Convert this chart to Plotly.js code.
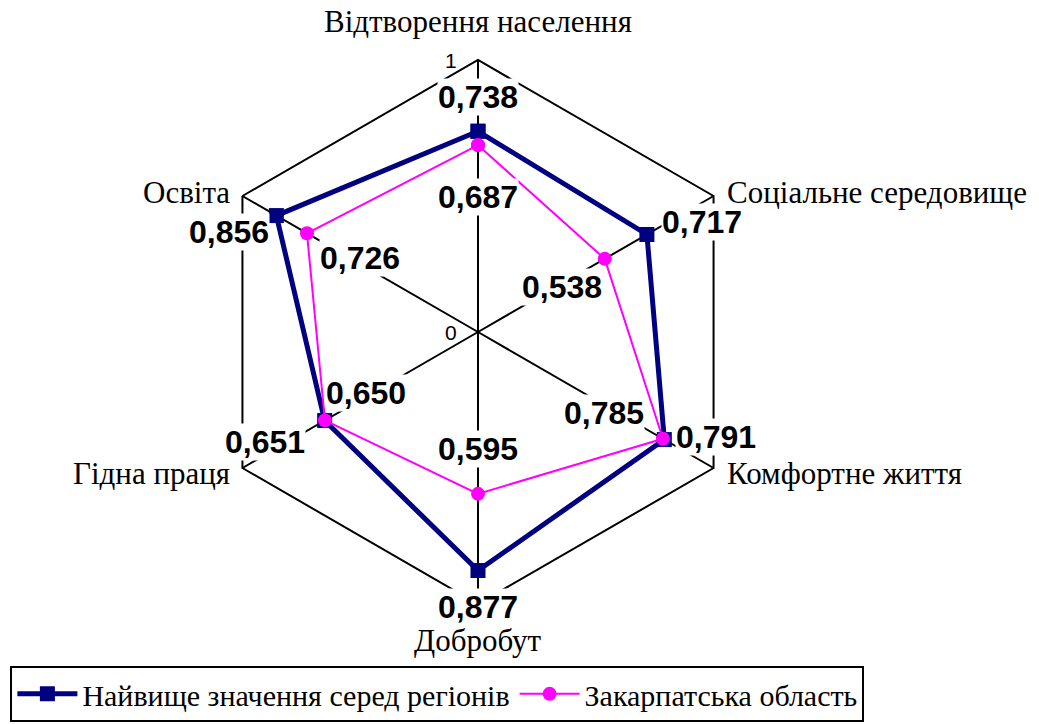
<!DOCTYPE html>
<html>
<head>
<meta charset="utf-8">
<script src="https://cdn.plot.ly/plotly-3.0.1.min.js"></script>
<style>html,body{margin:0;padding:0;background:#fff;}#chart{width:1039px;height:724px;}</style>
</head>
<body>
<div id="chart"></div>
<script>
// ---- data ----
var categories = ["Відтворення населення", "Соціальне середовище", "Комфортне життя", "Добробут", "Гідна праця", "Освіта"];
var seriesNames = ["Найвище значення серед регіонів", "Закарпатська область"];
var maxValues = [0.738, 0.717, 0.791, 0.877, 0.651, 0.856];
var zakValues = [0.687, 0.538, 0.785, 0.595, 0.650, 0.726];
var radialTicks = [0, 1];

// ---- layout constants ----
var W = 1039, H = 724;
var CX = 478, CY = 332, R = 272;
var SERIF = 'Liberation Serif';
var SANS = 'Liberation Sans';
function fmt(v){ return v.toFixed(3).replace('.', ','); }
function closeLoop(a){ return a.concat([a[0]]); }
function angleOf(i){ return (90 - 60 * i) * Math.PI / 180; }
function px(i, v){ var a = angleOf(i); return [CX + v * R * Math.cos(a), CY - v * R * Math.sin(a)]; }

var traces = [
  {type:'scatterpolar', r: closeLoop(maxValues), theta: closeLoop(categories), name: seriesNames[0],
   mode:'lines+markers', line:{color:'#000080', width:5}, marker:{symbol:'square', size:15, color:'#000080'}, cliponaxis:false},
  {type:'scatterpolar', r: closeLoop(zakValues), theta: closeLoop(categories), name: seriesNames[1],
   mode:'lines+markers', line:{color:'#FF00FF', width:2}, marker:{symbol:'circle', size:14, color:'#FF00FF'}, cliponaxis:false}
];

// label offsets (pixels) relative to data points
var maxShift = [[0,34],[55,12],[52,3],[0,-36],[-60,-21],[-47,-16]];
var zakShift = [[0,-52],[-43,-28],[-59,26],[0,45],[41,27],[53,-25]];
var catPos = [[478,22,'center'],[726,192,'left'],[726,473,'left'],[478,640,'center'],[231,473,'right'],[231,192,'right']];

var annotations = [];
function addVal(vals, shifts){
  vals.forEach(function(v, i){
    var p = px(i, v);
    annotations.push({xref:'paper', yref:'paper', x:p[0]/W, y:1-p[1]/H, xanchor:'center', yanchor:'middle',
      xshift:shifts[i][0], yshift:shifts[i][1], showarrow:false, text:'<b>'+fmt(v)+'</b>',
      font:{family:SANS, size:32, color:'#000'}, bgcolor:'#fff', borderpad:0});
  });
}
addVal(maxValues, maxShift);
addVal(zakValues, zakShift);
categories.forEach(function(c, i){
  var p = catPos[i];
  annotations.push({xref:'paper', yref:'paper', x:p[0]/W, y:1-p[1]/H, xanchor:p[2], yanchor:'middle',
    showarrow:false, text:c, font:{family:SERIF, size:31, color:'#000'}, bgcolor:'#fff', borderpad:0});
});
// radial tick labels
radialTicks.forEach(function(t){
  var p = px(0, t);
  annotations.push({xref:'paper', yref:'paper', x:(p[0]-27)/W, y:1-p[1]/H, xanchor:'center', yanchor:'middle',
    showarrow:false, text:String(t), font:{family:SANS, size:21, color:'#000'}});
});

var layout = {
  width:W, height:H, margin:{l:0,r:0,t:0,b:0}, paper_bgcolor:'#fff', showlegend:true,
  polar:{
    domain:{x:[(CX-R)/W,(CX+R)/W], y:[(H-CY-R)/H,(H-CY+R)/H]},
    gridshape:'linear', bgcolor:'rgba(0,0,0,0)',
    radialaxis:{range:[0,1], showgrid:false, showline:false, showticklabels:false, ticks:'', angle:90},
    angularaxis:{direction:'clockwise', rotation:90, showline:true, linecolor:'#000', linewidth:2,
      showgrid:true, gridcolor:'#000', gridwidth:2, showticklabels:false, ticks:''}
  },
  legend:{orientation:'h', x:0.01, xanchor:'left', y:0.003, yanchor:'bottom', bordercolor:'#000', borderwidth:2,
    bgcolor:'#fff', itemwidth:60, font:{family:'Times New Roman', size:30, color:'#000'}},
  annotations:annotations
};
Plotly.newPlot('chart', traces, layout, {displayModeBar:false, staticPlot:true});
</script>
</body>
</html>
